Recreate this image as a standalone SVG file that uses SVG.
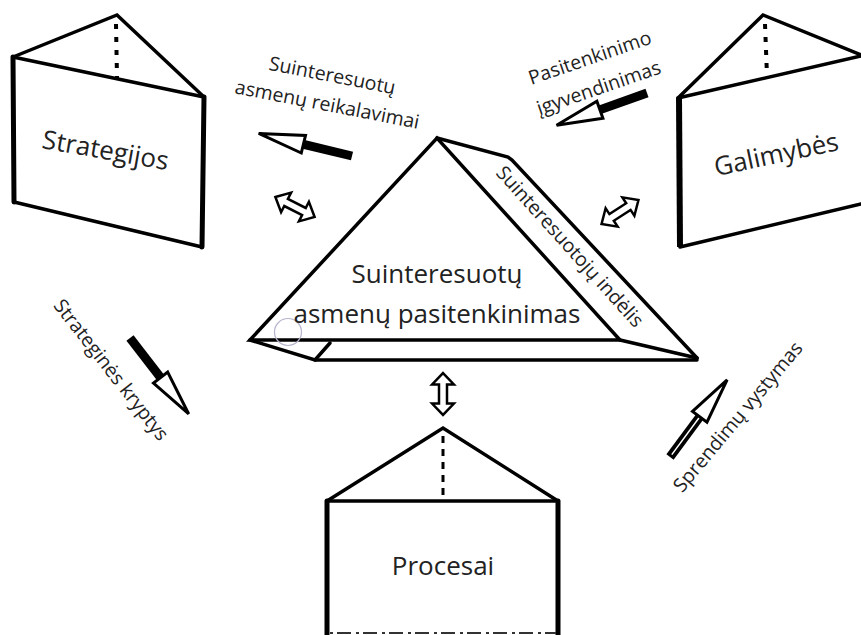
<svg xmlns="http://www.w3.org/2000/svg" xmlns:xlink="http://www.w3.org/1999/xlink" width="861" height="635" viewBox="0 0 861 635">
  <style>
    .edge { fill: none; stroke: #000; stroke-width: 3.5; stroke-linejoin: miter; stroke-linecap: round; }
    .thick { fill: none; stroke: #000; stroke-width: 5; stroke-linecap: round; }
    .dots { fill: none; stroke: #000; stroke-width: 4; stroke-dasharray: 5 8; stroke-linecap: butt; }
    .dash { fill: none; stroke: #333; stroke-width: 2; stroke-dasharray: 3 4 14 5; }
    .big { font-family: "Open Sans", "Noto Sans", "DejaVu Sans", sans-serif; font-size: 26px; fill: #222; text-anchor: middle; }
    .lbl { font-family: "Open Sans", "Noto Sans", "DejaVu Sans", sans-serif; font-size: 19.5px; fill: #222; text-anchor: middle; }
    .head { fill: #fff; stroke: #000; stroke-width: 3; stroke-linejoin: miter; }
    .dbl { fill: #fff; stroke: #000; stroke-width: 2.5; stroke-linejoin: miter; }
  </style>
  <defs>
    <g id="arr">
      <rect x="0" y="-4.5" width="54" height="9" fill="#000"/>
      <polygon class="head" points="50,-9 96,0 50,9"/>
    </g>
    <g id="arrHollow">
      <rect x="0" y="-4.5" width="54" height="9" fill="#000"/>
      <line x1="3" y1="0" x2="52" y2="0" stroke="#fff" stroke-width="1.5"/>
      <polygon class="head" points="50,-9 96,0 50,9"/>
    </g>
    <polygon id="dbl" class="dbl" points="-22,0 -10,-11 -10,-4 10,-4 10,-11 22,0 10,11 10,4 -10,4 -10,11"/>
  </defs>
  <rect width="861" height="635" fill="#fff"/>

  <g id="strategijos">
    <polygon points="13,57 117,15 204,97 203,247 14,202" fill="#fff"/>
    <polyline class="edge" points="13,57 117,15 204,97"/>
    <line class="edge" x1="13" y1="57" x2="204" y2="97"/>
    <line class="dots" x1="116" y1="24" x2="117" y2="78"/>
    <line class="thick" x1="13" y1="57" x2="14" y2="202"/>
    <line class="edge" x1="14" y1="202" x2="202" y2="247"/>
    <line class="thick" x1="204" y1="97" x2="202" y2="247"/>
    <text class="big" font-size="27" transform="translate(104,159) rotate(10)">Strategijos</text>
  </g>

  <g id="galimybes">
    <polygon points="678,98 763,15 861,55 861,203 680,247" fill="#fff"/>
    <polyline class="edge" points="678,98 763,15 861,55"/>
    <line class="edge" x1="678" y1="98" x2="861" y2="56"/>
    <line class="dots" x1="765" y1="24" x2="767" y2="76"/>
    <line fill="none" stroke="#000" stroke-width="6" x1="679" y1="98" x2="680" y2="247"/>
    <line class="edge" x1="680" y1="247" x2="861" y2="204"/>
    <text class="big" font-size="27" transform="translate(778,163) rotate(-12)">Galimybės</text>
  </g>

  <g id="pasitenkinimas">
    <polygon points="250,340 437,138 512,160 697,358 697,360 315,360" fill="#fff"/>
    <polygon class="edge" points="250,340 437,138 620,340"/>
    <polyline class="edge" points="437,138 508,157 512,160 697,358"/>
    <polyline class="edge" points="620,340 697,358"/>
    <line class="edge" x1="315" y1="360" x2="697" y2="360"/>
    <polyline class="edge" points="250,340 315,360 330,343"/>
    <circle cx="288" cy="332" r="13.5" fill="none" stroke="#b4b4cc" stroke-width="1.2"/>
    <text class="big" x="437" y="283">Suinteresuotų</text>
    <text class="big" x="437" y="323">asmenų pasitenkinimas</text>
    <text class="lbl" font-size="20.5" transform="translate(565,251) rotate(48)">Suinteresuotojų indėlis</text>
  </g>

  <g id="procesai">
    <polygon points="327,501 443,428 558,501 558,635 327,635" fill="#fff"/>
    <polyline class="edge" points="327,501 443,428 558,501"/>
    <line class="edge" x1="327" y1="501" x2="558" y2="501"/>
    <line class="dots" x1="443" y1="436" x2="443" y2="500" style="stroke-width:3;stroke-dasharray:7 6"/>
    <line class="thick" x1="327" y1="501" x2="327" y2="635"/>
    <line class="thick" x1="558" y1="501" x2="558" y2="635"/>
    <line class="dash" x1="330" y1="633" x2="556" y2="633"/>
    <text class="big" font-size="25" x="443" y="575">Procesai</text>
  </g>

  <g id="connectors">
    <use xlink:href="#arr" transform="translate(352,156) rotate(193.6)"/>
    <use xlink:href="#arr" transform="translate(647,93) rotate(160.4)"/>
    <use xlink:href="#arr" transform="translate(130,338) rotate(52.3)"/>
    <use xlink:href="#arrHollow" transform="translate(670,457) rotate(-53.5)"/>
    <use xlink:href="#dbl" transform="translate(295,207) rotate(27)"/>
    <use xlink:href="#dbl" transform="translate(620,212) rotate(-33)"/>
    <use xlink:href="#dbl" transform="translate(443,394) rotate(90) scale(0.95,1)"/>
  </g>

  <g id="labels">
    <text class="lbl" transform="translate(331,82) rotate(11)">Suinteresuotų</text>
    <text class="lbl" transform="translate(326,111) rotate(11)">asmenų reikalavimai</text>
    <text class="lbl" transform="translate(592,64) rotate(-19)">Pasitenkinimo</text>
    <text class="lbl" transform="translate(601,94) rotate(-19)">įgyvendinimas</text>
    <text class="lbl" transform="translate(106,374) rotate(52)">Strateginės kryptys</text>
    <text class="lbl" transform="translate(743,421) rotate(-50)">Sprendimų vystymas</text>
  </g>
</svg>
